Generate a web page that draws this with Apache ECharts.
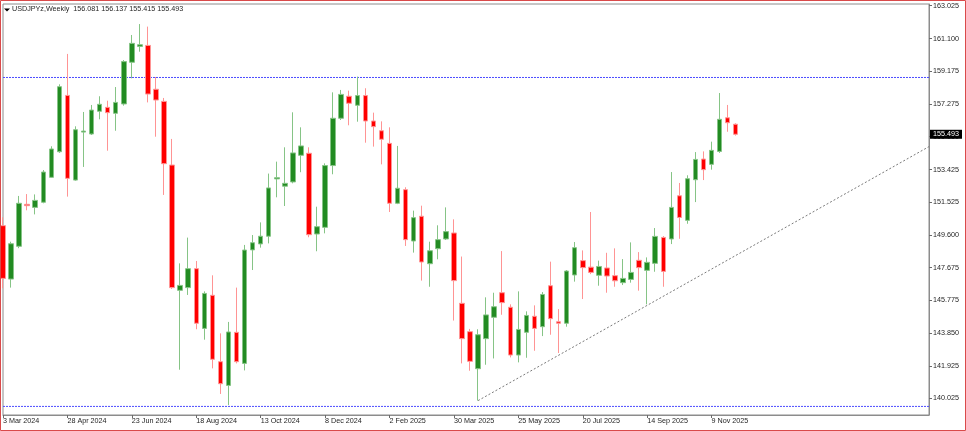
<!DOCTYPE html>
<html><head><meta charset="utf-8">
<script src="https://cdn.jsdelivr.net/npm/echarts@6/dist/echarts.min.js"></script>
<style>html,body{margin:0;padding:0;background:#fff}#c{width:966px;height:431px}</style>
</head><body><div id="c"></div>
<script>
const symbolName = 'USDJPYz,Weekly';
const firstWeekUTC = [2024, 2, 3];   // 3 Mar 2024
const totalSlots = 116;              // weekly slots visible on the axis
const monthNames = ['Jan','Feb','Mar','Apr','May','Jun','Jul','Aug','Sep','Oct','Nov','Dec'];

const opens = [150.14,147.01,148.93,151.39,151.21,151.51,152.97,154.47,157.77,152.81,155.62,155.51,156.84,157.07,156.72,157.27,159.71,160.64,160.70,158.13,157.42,153.69,146.35,146.51,147.62,144.12,146.06,142.17,140.78,143.89,142.07,148.72,149.07,149.52,152.88,152.45,152.70,154.26,154.38,149.65,150.04,153.66,156.43,157.72,157.19,157.76,156.27,155.70,154.96,151.45,152.25,149.24,150.69,147.91,148.79,149.36,149.71,145.59,143.93,141.76,143.52,144.77,146.21,145.36,142.56,143.89,144.83,144.22,146.62,144.51,144.42,147.25,148.09,147.71,147.23,147.66,147.21,146.80,146.99,148.11,147.52,147.93,149.45,149.36,151.89,150.45,152.83,154.04,153.73,154.49,156.46,156.081];
const highs = [150.63,149.20,151.88,151.99,151.97,153.40,154.79,158.42,160.20,155.96,156.80,157.21,157.72,157.46,158.26,159.84,161.31,161.95,161.80,158.85,157.62,155.22,147.93,149.44,148.07,146.29,147.23,143.83,144.50,146.51,149.01,149.59,150.33,153.19,153.89,154.73,156.78,155.90,154.73,151.25,153.79,157.95,158.09,158.05,158.87,158.19,156.76,156.25,155.90,154.81,152.39,151.02,151.31,149.20,150.16,151.21,150.51,148.33,144.09,144.07,145.94,146.21,148.65,145.53,146.29,145.12,145.47,146.25,148.03,145.25,147.54,149.18,148.69,150.94,148.09,148.55,148.81,148.18,149.16,148.59,148.28,150.00,149.53,153.28,152.64,153.09,154.45,154.49,155.06,157.91,157.21,156.137];
const lows = [146.47,146.51,148.82,151.04,150.80,151.45,152.95,154.40,151.84,152.77,153.58,155.45,156.37,154.53,155.70,157.17,158.77,160.33,157.36,155.35,151.94,146.43,141.70,146.08,144.07,143.46,141.78,140.28,139.63,142.07,141.66,147.54,148.85,149.10,151.80,151.29,152.62,153.27,149.46,148.64,149.69,153.15,156.33,156.02,156.23,155.00,154.77,153.73,150.94,151.40,148.95,148.56,146.92,146.56,148.17,149.30,144.58,142.07,141.64,139.89,141.99,142.36,144.92,142.42,142.13,142.40,142.81,143.67,143.75,142.68,144.22,146.86,145.84,147.30,146.62,146.21,146.56,146.66,146.80,146.33,145.53,147.44,146.56,149.06,149.37,150.25,151.52,152.81,153.42,154.40,155.64,155.415];
const closes = [147.05,149.08,151.45,151.31,151.62,153.28,154.63,158.28,152.91,155.76,155.68,156.91,157.25,156.76,157.36,159.75,160.82,160.74,157.85,157.50,153.77,146.51,146.64,147.62,144.42,146.17,142.31,140.88,143.91,142.17,148.71,149.14,149.52,152.35,152.95,152.62,154.40,154.81,149.61,150.08,153.66,156.43,157.83,157.31,157.76,156.27,155.94,155.20,151.45,152.33,149.32,150.61,148.01,148.67,149.32,149.79,146.92,143.52,142.19,143.75,144.91,145.39,145.63,142.56,144.06,144.88,144.12,146.11,144.69,144.42,147.48,148.85,147.68,147.40,147.75,147.19,146.91,147.05,147.40,147.68,147.99,149.51,147.46,151.21,150.62,152.89,154.02,153.42,154.55,156.37,156.17,155.493];

const yTickValues = [140.025,141.925,143.850,145.775,147.675,149.600,151.525,153.425,155.350,157.275,159.175,161.100,163.025];
const yMin = 139.047, yMax = 163.125;
const levelLines = [158.82, 139.55];
const trendLine = [[59, 139.89], [115, 154.77]];
const labelEvery = 8;

const categories = [];
for (let i = 0; i < totalSlots; i++) {
  const d = new Date(Date.UTC(firstWeekUTC[0], firstWeekUTC[1], firstWeekUTC[2]) + i * 7 * 86400000);
  categories.push(d.getUTCDate() + ' ' + monthNames[d.getUTCMonth()] + ' ' + d.getUTCFullYear());
}
const nBars = opens.length;
const candleData = opens.map((o, i) => [o, closes[i], lows[i], highs[i]]);
const last = nBars - 1;
const headerText = symbolName + '  ' + [opens[last], highs[last], lows[last], closes[last]].map(v => v.toFixed(3)).join(' ');
const lastPriceText = closes[last].toFixed(3);

const FONT = 'Liberation Sans';
const FS = 7.2;
const showIdx = (i) => i % labelEvery === 0 && i < nBars;

const levelSeries = levelLines.map(v => ({
  type: 'line', data: [[0, v], [totalSlots - 1, v]], symbol: 'none', silent: true,
  lineStyle: {color: '#4b4bff', type: [2, 1], width: 1}, z: 1
}));

const chart = echarts.init(document.getElementById('c'), null, {renderer: 'canvas'});
chart.setOption({
  animation: false,
  backgroundColor: '#ffffff',
  title: {
    text: headerText, left: 12, top: 6, padding: 0,
    textStyle: {fontSize: FS, fontWeight: 'normal', color: '#1e1e1e', fontFamily: FONT}
  },
  graphic: [
    {type: 'rect', shape: {x: 0.5, y: 0.5, width: 965, height: 430}, style: {fill: 'none', stroke: '#d94a4a', lineWidth: 1}, silent: true, z: 100},
    {type: 'polygon', shape: {points: [[4, 8.5], [10, 8.5], [7, 11.5]]}, style: {fill: '#000'}, silent: true}
  ],
  grid: {left: 2, right: 37, top: 4, bottom: 16, show: true, borderColor: '#8c8c8c', borderWidth: 1, backgroundColor: '#fff'},
  xAxis: {
    type: 'category', data: categories, boundaryGap: false,
    axisLine: {show: true, lineStyle: {color: '#8c8c8c'}},
    axisTick: {show: true, interval: (i) => showIdx(i), length: 3, lineStyle: {color: '#6a6a6a'}},
    axisLabel: {interval: (i) => showIdx(i), align: 'left', fontSize: FS, color: '#1e1e1e', fontFamily: FONT, margin: 3},
    splitLine: {show: false}
  },
  yAxis: {
    type: 'value', position: 'right', min: yMin, max: yMax, scale: true,
    axisLine: {show: true, lineStyle: {color: '#8c8c8c'}},
    axisTick: {show: true, customValues: yTickValues, length: 3, lineStyle: {color: '#6a6a6a'}},
    axisLabel: {customValues: yTickValues, formatter: (v) => v.toFixed(3), fontSize: FS, color: '#1e1e1e', fontFamily: FONT, margin: 4},
    splitLine: {show: false}
  },
  series: [
    {
      type: 'candlestick', data: candleData, barWidth: 5, clip: false,
      itemStyle: {color: '#228b22', color0: '#ff0000', borderColor: '#86c486', borderColor0: '#ff9494', borderWidth: 1},
      markLine: {
        silent: true, symbol: ['none', 'none'], animation: false, precision: 3,
        lineStyle: {color: 'rgba(0,0,0,0)', width: 1, type: 'solid'},
        label: {show: true, position: 'end', distance: 1, formatter: lastPriceText,
                backgroundColor: '#000', color: '#fff', fontSize: FS, fontFamily: FONT, padding: [1, 3], lineHeight: 7},
        emphasis: {disabled: true},
        data: [{yAxis: closes[last]}]
      },
      z: 2
    },
    {
      type: 'line', data: trendLine, symbol: 'none', silent: true,
      lineStyle: {color: '#7a7a7a', type: [2, 2], width: 1}, z: 3
    }
  ].concat(levelSeries)
});
</script></body></html>
